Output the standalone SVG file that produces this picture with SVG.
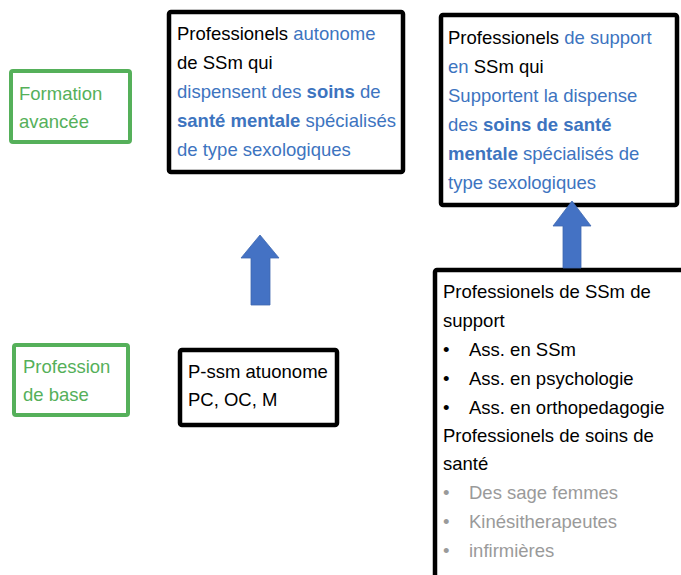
<svg xmlns="http://www.w3.org/2000/svg" width="681" height="575" viewBox="0 0 681 575">
<style>
text{font-family:"Liberation Sans",Arial,sans-serif;font-size:18.5px;fill:#000}
.b{fill:#3d74bf}
.bb{fill:#3d74bf;font-weight:bold}
.g{fill:#55b05a}
.gr{fill:#9a9a9a}
.box{fill:#fff;stroke:#000;stroke-width:4.5}
.gbox{fill:#fff;stroke:#55b05a;stroke-width:4}
.arrow{fill:#4472c4;stroke:#3f68b0;stroke-width:0.8}
</style>
<rect width="681" height="575" fill="#fff"/>
<g id="formation-avancee">
<rect class="gbox" x="11" y="71" width="119" height="71" rx="2"/>
<text class="g" x="19" y="100">Formation</text>
<text class="g" x="19" y="128">avancée</text>
</g>
<g id="profession-base">
<rect class="gbox" x="14" y="345" width="114" height="70" rx="2"/>
<text class="g" x="23" y="373">Profession</text>
<text class="g" x="23" y="401">de base</text>
</g>
<g id="pro-autonome">
<rect class="box" x="169" y="12" width="234" height="160" rx="2"/>
<text x="177" y="40">Professionels <tspan class="b">autonome</tspan></text>
<text x="177" y="69">de SSm qui</text>
<text class="b" x="177" y="98">dispensent des <tspan class="bb">soins</tspan> de</text>
<text class="b" x="177" y="127"><tspan class="bb">santé mentale</tspan> spécialisés</text>
<text class="b" x="177" y="156">de type sexologiques</text>
</g>
<g id="pro-support">
<rect class="box" x="441" y="15" width="236" height="190" rx="2"/>
<text x="448" y="44">Professionels <tspan class="b">de support</tspan></text>
<text x="448" y="73"><tspan class="b">en</tspan> SSm qui</text>
<text class="b" x="448" y="102">Supportent la dispense</text>
<text class="b" x="448" y="131">des <tspan class="bb">soins de santé</tspan></text>
<text class="b" x="448" y="160"><tspan class="bb">mentale</tspan> spécialisés de</text>
<text class="b" x="448" y="189">type sexologiques</text>
</g>
<g id="pssm-autonome">
<rect class="box" x="180" y="350" width="157" height="75" rx="2"/>
<text x="188" y="378">P-ssm atuonome</text>
<text x="188" y="406">PC, OC, M</text>
</g>
<g id="pro-ssm-support">
<rect class="box" x="435" y="270" width="260" height="320" rx="2"/>
<text x="443" y="298">Professionels de SSm de</text>
<text x="443" y="327">support</text>
<text x="443" y="356">•</text><text x="469" y="356">Ass. en SSm</text>
<text x="443" y="385">•</text><text x="469" y="385">Ass. en psychologie</text>
<text x="443" y="414">•</text><text x="469" y="414">Ass. en orthopedagogie</text>
<text x="443" y="442">Professionels de soins de</text>
<text x="443" y="470">santé</text>
<text class="gr" x="443" y="499">•</text><text class="gr" x="469" y="499">Des sage femmes</text>
<text class="gr" x="443" y="528">•</text><text class="gr" x="469" y="528">Kinésitherapeutes</text>
<text class="gr" x="443" y="557">•</text><text class="gr" x="469" y="557">infirmières</text>
</g>
<g id="connectors">
<path class="arrow" d="M260,235 L279,258 L270,258 L270,305 L251,305 L251,258 L241,258 Z"/>
<path class="arrow" d="M572,201 L591,226 L581,226 L581,268 L563,268 L563,226 L553,226 Z"/>
</g>
</svg>
